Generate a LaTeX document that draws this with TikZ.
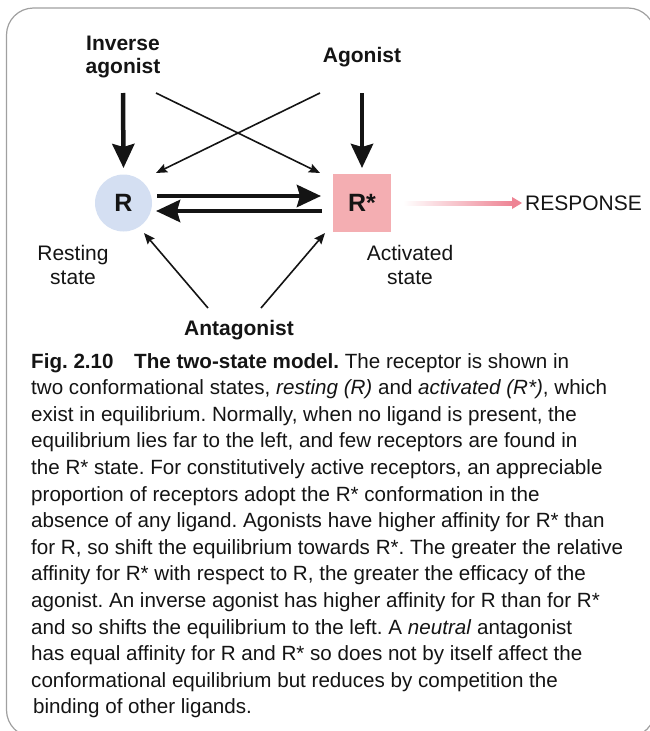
\documentclass[tikz,border=0pt]{standalone}
\usepackage{fontspec}
\setmainfont{Liberation Sans}
\usetikzlibrary{arrows.meta,calc}
\definecolor{rblue}{HTML}{D4DFF2}
\definecolor{rpink}{HTML}{F4AEB2}
\definecolor{apink}{HTML}{EE8494}
\definecolor{framegray}{HTML}{A0A0A0}
\definecolor{ink}{HTML}{141414}
\frenchspacing
\begin{document}
\begin{tikzpicture}[x=1pt,y=-1pt,
  lbl/.style={font=\fontsize{21}{23}\selectfont\bfseries, align=center, inner sep=0pt, text=ink},
  statelbl/.style={font=\fontsize{21}{24}\selectfont, align=center, inner sep=0pt, text=ink},
  bigarrow/.style={ink, line width=4.5pt, -{Stealth[length=24pt,width=22pt,inset=3pt]}},
  thinarrow/.style={ink, line width=1.6pt, -{Stealth[length=11pt,width=9pt,inset=1.5pt]}},
]
\useasboundingbox (0,0) rectangle (649,731);
\draw[framegray, line width=1.2pt, rounded corners=27pt] (6.5,8) rectangle (655,737);

% nodes
\node[lbl] (inv) at (123,57) {Inverse\\agonist};
\node[lbl] (ago) at (362,57) {Agonist};
\node[lbl] (ant) at (239,330) {Antagonist};
\node[circle, fill=rblue, minimum size=57pt, inner sep=0pt,
      font=\fontsize{25}{27}\selectfont\bfseries, text=ink] (R) at (123.5,203) {R};
\node[rectangle, fill=rpink, minimum size=58pt, inner sep=0pt,
      font=\fontsize{25}{27}\selectfont\bfseries, text=ink] (Rs) at (362,203) {R*};
\node[statelbl] (rest) at (73,265) {Resting\\state};
\node[statelbl] (act) at (410,265) {Activated\\state};
\node[statelbl, anchor=west] (resp) at (525,203) {RESPONSE};

% thick vertical arrows
\draw[bigarrow] ($(inv.center)+(0,36)$) -- ($(R.center)+(0,-35)$);
\draw[bigarrow] ($(ago.center)+(0,36)$) -- ($(Rs.center)+(0,-35)$);
% crossing thin arrows
\draw[thinarrow] ($(inv.center)+(33,36)$) -- ($(Rs.center)+(-42,-30)$);
\draw[thinarrow] ($(ago.center)+(-42,36)$) -- ($(R.center)+(32.5,-30)$);
% antagonist arrows
\draw[thinarrow] ($(ant.center)+(-31,-22)$) -- ($(R.center)+(20.5,30)$);
\draw[thinarrow] ($(ant.center)+(22,-22)$) -- ($(Rs.center)+(-37,30)$);
% equilibrium arrows
\draw[bigarrow] ($(R.center)+(33.5,-7)$) -- ($(Rs.center)+(-41,-7)$);
\draw[bigarrow] ($(Rs.center)+(-40,8)$) -- ($(R.center)+(32.5,8)$);
% response arrow
\shade[left color=white, right color=apink] ($(Rs.center)+(41,-2)$) rectangle ($(resp.west)+(-12,2)$);
\fill[apink] ($(resp.west)+(-13,-6)$) -- ($(resp.west)+(-3,0)$) -- ($(resp.west)+(-13,6)$) -- cycle;

% caption
\node[anchor=north west, align=left, inner sep=0pt, text=ink,
      font=\fontsize{20.6}{26.6}\selectfont] (cap) at (31,353) {%
\textbf{Fig. 2.10}\hspace{1em}\textbf{The two-state model.} The receptor is shown in\\
two conformational states, \textit{resting (R)} and \textit{activated (R*)}, which\\
exist in equilibrium. Normally, when no ligand is present, the\\
equilibrium lies far to the left, and few receptors are found in\\
the R* state. For constitutively active receptors, an appreciable\\
proportion of receptors adopt the R* conformation in the\\
absence of any ligand. Agonists have higher affinity for R* than\\
for R, so shift the equilibrium towards R*. The greater the relative\\
affinity for R* with respect to R, the greater the efficacy of the\\
agonist. An inverse agonist has higher affinity for R than for R*\\
and so shifts the equilibrium to the left. A \textit{neutral} antagonist\\
has equal affinity for R and R* so does not by itself affect the\\
conformational equilibrium but reduces by competition the\\
\hspace{2pt}binding of other ligands.};
\end{tikzpicture}
\end{document}
